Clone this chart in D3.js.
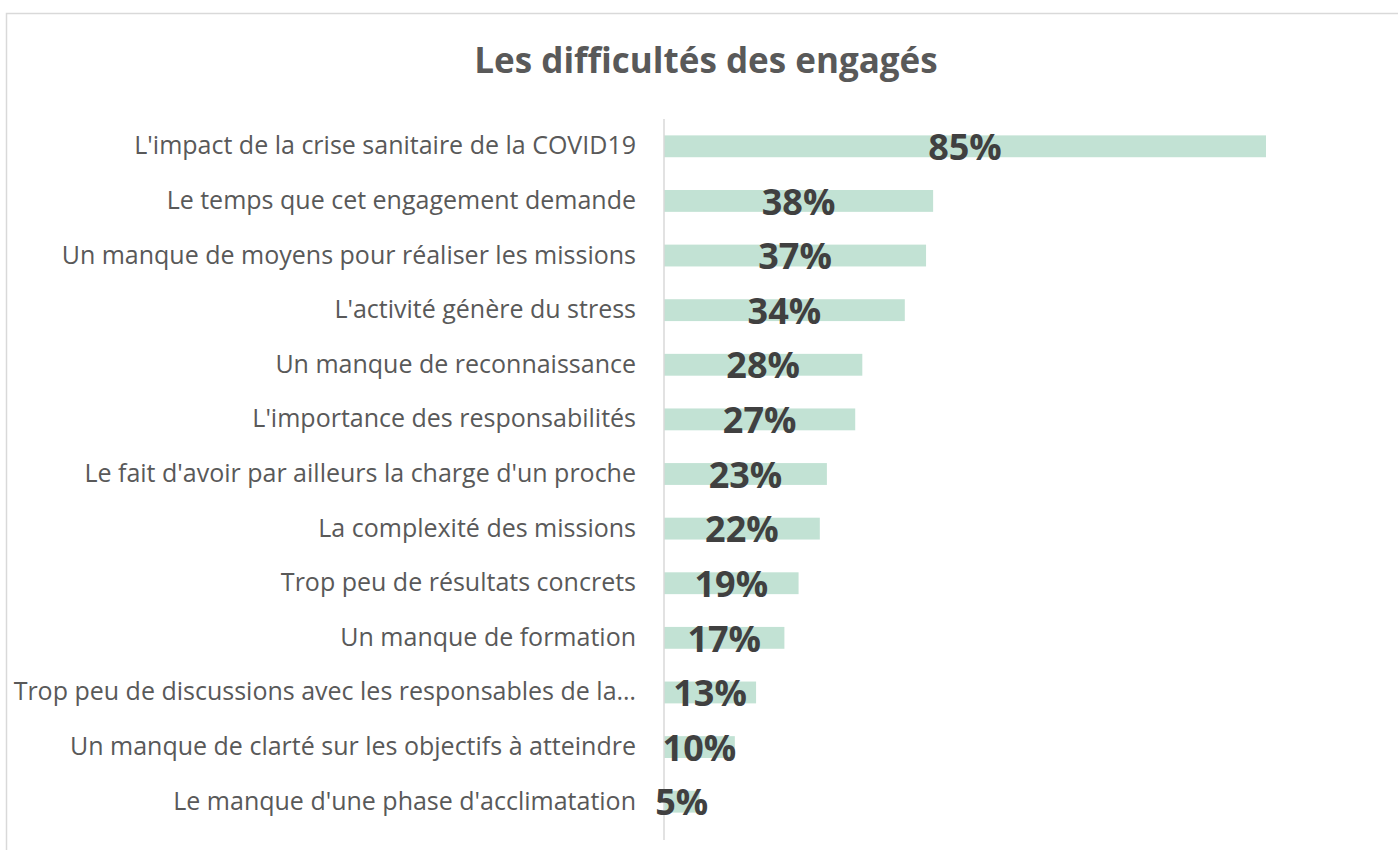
<!DOCTYPE html>
<html lang="fr">
<head>
    <meta charset="UTF-8">
    <title>Les difficultés des engagés</title>
    <script src="https://cdnjs.cloudflare.com/ajax/libs/d3/7.8.5/d3.min.js"></script>
    <style>
        body { margin: 0; background: #fff; }
    </style>
</head>
<body>

<div id="chart_holder"></div>

<script>
    var width = 1398;
    var height = 850;

    var chartTitle = "Les difficultés des engagés";

    var categories = [
        "L'impact de la crise sanitaire de la COVID19",
        "Le temps que cet engagement demande",
        "Un manque de moyens pour réaliser les missions",
        "L'activité génère du stress",
        "Un manque de reconnaissance",
        "L'importance des responsabilités",
        "Le fait d'avoir par ailleurs la charge d'un proche",
        "La complexité des missions",
        "Trop peu de résultats concrets",
        "Un manque de formation",
        "Trop peu de discussions avec les responsables de la…",
        "Un manque de clarté sur les objectifs à atteindre",
        "Le manque d'une phase d'acclimatation"
    ];

    var values = [85, 38, 37, 34, 28, 27, 23, 22, 19, 17, 13, 10, 5];

    var data = categories.map(function(c, i) { return {name: c, value: values[i]}; });

    var font = "'Open Sans', Lato, sans-serif";

    var svg = d3.select("#chart_holder")
        .append("svg")
        .attr("width", width)
        .attr("height", height);

    // chart area frame
    svg.append("rect")
        .attr("x", 6.5)
        .attr("y", 13.5)
        .attr("width", 1420)
        .attr("height", 860)
        .attr("fill", "#ffffff")
        .attr("stroke", "#d9d9d9")
        .attr("stroke-width", 1.5);

    svg.append("text")
        .attr("x", 706)
        .attr("y", 73)
        .attr("text-anchor", "middle")
        .attr("font-family", font)
        .attr("font-weight", "bold")
        .attr("font-size", 35)
        .attr("fill", "#595959")
        .text(chartTitle);

    var x = d3.scaleLinear()
        .domain([0, 85])
        .range([664, 1266]);

    var y = d3.scaleBand()
        .domain(categories)
        .range([119, 829])
        .paddingInner(0.6)
        .paddingOuter(0.3);

    svg.selectAll("rect.bar")
        .data(data)
        .enter()
        .append("rect")
        .attr("class", "bar")
        .attr("x", x(0))
        .attr("y", function(d) { return y(d.name); })
        .attr("width", function(d) { return x(d.value) - x(0); })
        .attr("height", y.bandwidth())
        .attr("fill", "#c2e2d4");

    // vertical axis line
    svg.append("line")
        .attr("x1", x(0))
        .attr("x2", x(0))
        .attr("y1", 119)
        .attr("y2", 840)
        .attr("stroke", "#d9d9d9")
        .attr("stroke-width", 1.5);

    svg.selectAll("text.cat")
        .data(data)
        .enter()
        .append("text")
        .attr("class", "cat")
        .attr("x", 636)
        .attr("y", function(d) { return y(d.name) + y.bandwidth() / 2; })
        .attr("dy", "0.32em")
        .attr("text-anchor", "end")
        .attr("font-family", font)
        .attr("font-size", 25)
        .attr("fill", "#595959")
        .text(function(d) { return d.name; });

    svg.selectAll("text.val")
        .data(data)
        .enter()
        .append("text")
        .attr("class", "val")
        .attr("x", function(d) { return (x(0) + x(d.value)) / 2; })
        .attr("y", function(d) { return y(d.name) + y.bandwidth() / 2; })
        .attr("dy", "0.38em")
        .attr("text-anchor", "middle")
        .attr("font-family", font)
        .attr("font-weight", "bold")
        .attr("font-size", 36)
        .attr("fill", "#404040")
        .text(function(d) { return d.value + "%"; });
</script>

</body>
</html>
